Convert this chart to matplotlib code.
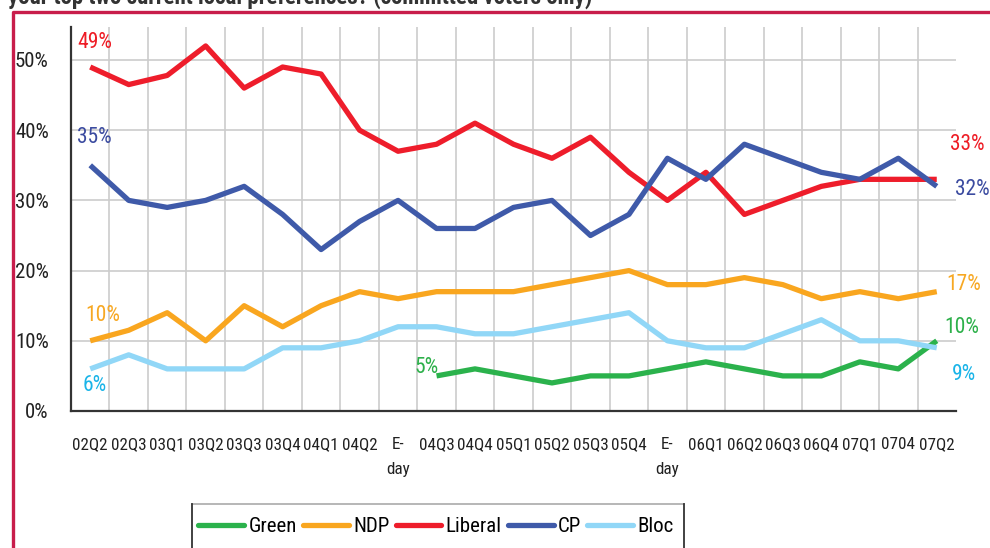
import matplotlib.pyplot as plt
import numpy as np
from matplotlib.lines import Line2D

plt.rcParams['font.family'] = ['Noto Sans Condensed', 'Roboto Condensed', 'Noto Sans', 'DejaVu Sans']
plt.rcParams['font.stretch'] = 'condensed'

# 数据（单位：%）
cats = ['02Q2', '02Q3', '03Q1', '03Q2', '03Q3', '03Q4', '04Q1', '04Q2', 'E-\nday',
        '04Q3', '04Q4', '05Q1', '05Q2', '05Q3', '05Q4', 'E-\nday',
        '06Q1', '06Q2', '06Q3', '06Q4', '07Q1', '0704', '07Q2']
green = [np.nan] * 9 + [5, 6, 5, 4, 5, 5, 6, 7, 6, 5, 5, 7, 6, 10]
ndp = [10, 11.5, 14, 10, 15, 12, 15, 17, 16, 17, 17, 17, 18, 19, 20, 18, 18, 19, 18, 16, 17, 16, 17]
liberal = [49, 46.5, 47.8, 52, 46, 49, 48, 40, 37, 38, 41, 38, 36, 39, 34, 30, 34, 28, 30, 32, 33, 33, 33]
cp = [35, 30, 29, 30, 32, 28, 23, 27, 30, 26, 26, 29, 30, 25, 28, 36, 33, 38, 36, 34, 33, 36, 32]
bloc = [6, 8, 6, 6, 6, 9, 9, 10, 12, 12, 11, 11, 12, 13, 14, 10, 9, 9, 11, 13, 10, 10, 9]

series = [
    ('Green', green, '#2BB24C', '#2DB04A'),
    ('NDP', ndp, '#F9A61F', '#F7A823'),
    ('Liberal', liberal, '#EE1D2B', '#EE1C25'),
    ('CP', cp, '#3F5AA9', '#3B4BA0'),
    ('Bloc', bloc, '#91D7F7', '#1AB4E8'),
]

fig = plt.figure(figsize=(9.9, 5.48), dpi=100)
ax = fig.add_axes([71 / 990, 1 - 411 / 548, (956 - 71) / 990, (411 - 27) / 548])

x = np.arange(len(cats))
for name, vals, col, _ in series:
    ax.plot(x, vals, color=col, linewidth=3.8, label=name, solid_capstyle='butt')

# 首尾数值标签（偏移单位：像素）
px = 0.72
labels = [
    (liberal, 0, '49%', (-13, 25), 'left'),
    (cp, 0, '35%', (-13, 28), 'left'),
    (ndp, 0, '10%', (-5, 25), 'left'),
    (bloc, 0, '6%', (-8, -17), 'left'),
    (green, 9, '5%', (2, 8), 'right'),
    (liberal, -1, '33%', (13, 35), 'left'),
    (cp, -1, '32%', (18, -3), 'left'),
    (ndp, -1, '17%', (10, 7), 'left'),
    (green, -1, '10%', (8, 13), 'left'),
    (bloc, -1, '9%', (15, -27), 'left'),
]
colmap = {id(v): c for _, v, _, c in series}
for vals, i, txt, (dx, dy), ha in labels:
    ax.annotate(txt, (x[i], vals[i]), xytext=(dx * px, dy * px), textcoords='offset points',
                ha=ha, va='center', color=colmap[id(vals)], fontsize=15.5,
                annotation_clip=False)

ax.set_xlim(-0.5, len(cats) - 0.5)
ax.set_ylim(0, 54.7)
ax.set_yticks([0, 10, 20, 30, 40, 50])
ax.set_yticklabels(['0%', '10%', '20%', '30%', '40%', '50%'])
ax.set_xticks(x)
ax.set_xticklabels(cats)
ax.set_xticks(np.arange(0.5, len(cats) - 1, 1), minor=True)
for lab in ax.get_xticklabels():
    lab.set_linespacing(1.8)

ax.tick_params(axis='both', which='both', length=0, colors='#222222')
ax.tick_params(axis='x', pad=19, labelsize=12.3)
ax.tick_params(axis='y', pad=16, labelsize=15)
ax.grid(axis='y', which='major', color='#CCCCCC', linewidth=1.2)
ax.grid(axis='x', which='minor', color='#CCCCCC', linewidth=1.2)
ax.grid(axis='x', which='major', visible=False)
ax.set_axisbelow(True)
for s in ['top', 'right']:
    ax.spines[s].set_visible(False)
for s in ['left', 'bottom']:
    ax.spines[s].set_color('#333333')
    ax.spines[s].set_linewidth(1.6)

# 图例
leg = fig.legend(loc='center', bbox_to_anchor=(436 / 990, 1 - 527 / 548), ncol=5,
                 frameon=False, fontsize=15, handlelength=2.2, handletextpad=0.2,
                 columnspacing=0.3)
for h in leg.get_lines():
    h.set_linewidth(3.8)
    h.set_solid_capstyle('round')
fig.add_artist(Line2D([192 / 990, 684 / 990], [1 - 504 / 548] * 2, color='#AAAAAA', lw=1.2))
fig.add_artist(Line2D([192 / 990] * 2, [1 - 504 / 548, 0], color='#333333', lw=1.3))
fig.add_artist(Line2D([684 / 990] * 2, [1 - 504 / 548, 0], color='#333333', lw=1.3))

# 外框与被截断的标题
fig.add_artist(Line2D([13 / 990, 13 / 990, 1.01], [-0.01, 1 - 12 / 548, 1 - 12 / 548],
                      color='#C81D4B', lw=2.4))
fig.text(8 / 990, 1 - 4 / 548, 'your top two current local preferences? (committed voters only)',
         fontsize=16.5, fontweight='bold', color='#333333', va='baseline', ha='left')

fig.savefig('out.png', dpi=100)
